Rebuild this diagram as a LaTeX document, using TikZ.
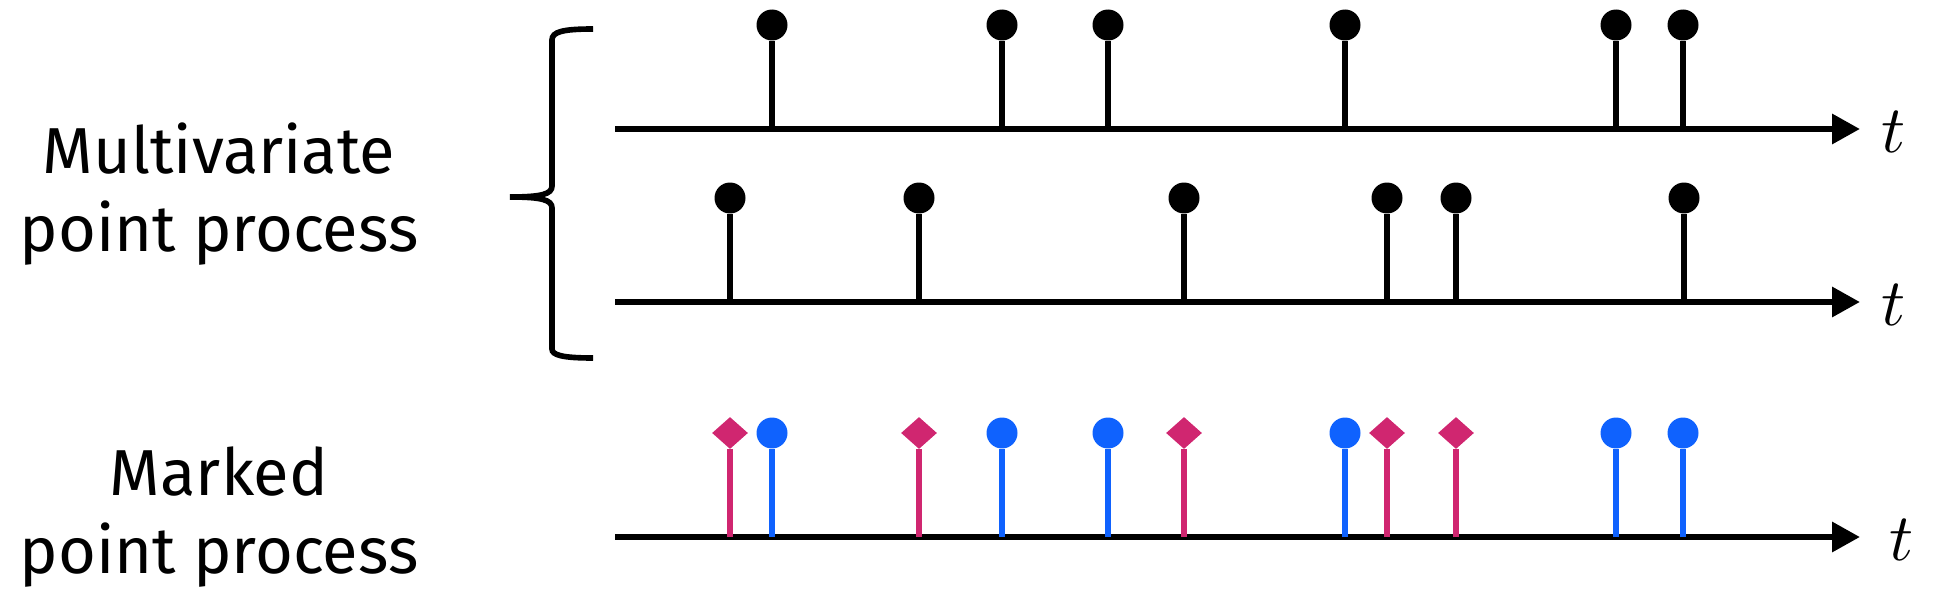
\documentclass[tikz,border=0pt]{standalone}
\usepackage{fontspec}
\setmainfont{Fira Sans}
\usetikzlibrary{arrows.meta, shapes.geometric}

\definecolor{ibmblue}{HTML}{0F62FE}
\definecolor{ibmmagenta}{HTML}{D02670}

\tikzset{
  timeline/.style={line width=3.6pt, -{Triangle[length=0.56cm, width=0.58cm]}},
  stem/.style={line width=3.4pt},
  dot/.style={circle, fill, inner sep=0pt, minimum size=0.62cm},
  gem/.style={diamond, fill, inner sep=0pt, minimum width=0.72cm, minimum height=0.64cm},
  title/.style={align=center, font=\fontsize{37}{44}\selectfont},
  tlabel/.style={anchor=west, inner sep=0pt, scale=3.8}
}

\begin{document}
\begin{tikzpicture}[x=0.02cm, y=-0.02cm]
	\useasboundingbox (0,0) rectangle (1940,601);

	\node [title] (mv) at (219,194) {Multivariate\\point process};
	\node [title] (mk) at (219,517) {Marked\\point process};

	% time axes
	\coordinate (s1) at (615,129);  \coordinate (e1) at (1860,129);
	\coordinate (s2) at (615,302);  \coordinate (e2) at (1860,302);
	\coordinate (s3) at (615,537);  \coordinate (e3) at (1860,537);
	\draw [timeline] (s1) -- (e1);
	\draw [timeline] (s2) -- (e2);
	\draw [timeline] (s3) -- (e3);
	\node [tlabel] (t1) at (1880,132) {$t$};
	\node [tlabel] (t2) at (1880,305) {$t$};
	\node [tlabel] (t3) at (1888,540) {$t$};

	% brace
	\draw [line width=3.2pt] (593,29) .. controls (562,29) and (552,32) .. (552,40) -- (552,186)
		.. controls (552,194) and (542,197) .. (510,197) .. controls (542,197) and (552,200) .. (552,208)
		-- (552,349) .. controls (552,355) and (562,358) .. (593,358);

	% first process
	\foreach \x [count=\i] in {772,1002,1108,1345,1616,1683} {
		\coordinate (a\i) at (\x,129);
		\node [dot] (ha\i) at (\x,25) {};
		\draw [stem] (a\i) -- (ha\i);
		\coordinate (c\i) at (\x,537);
		\node [dot, ibmblue] (hc\i) at (\x,433) {};
		\draw [stem, ibmblue] (c\i) -- (hc\i);
	}

	% second process
	\foreach \x [count=\i] in {730,919,1184,1387,1456,1684} {
		\coordinate (b\i) at (\x,302);
		\node [dot] (hb\i) at (\x,198) {};
		\draw [stem] (b\i) -- (hb\i);
	}
	\foreach \x [count=\i] in {730,919,1184,1387,1456} {
		\coordinate (d\i) at (\x,537);
		\node [gem, ibmmagenta] (hd\i) at (\x,433) {};
		\draw [stem, ibmmagenta] (d\i) -- (hd\i);
	}
\end{tikzpicture}
\end{document}
